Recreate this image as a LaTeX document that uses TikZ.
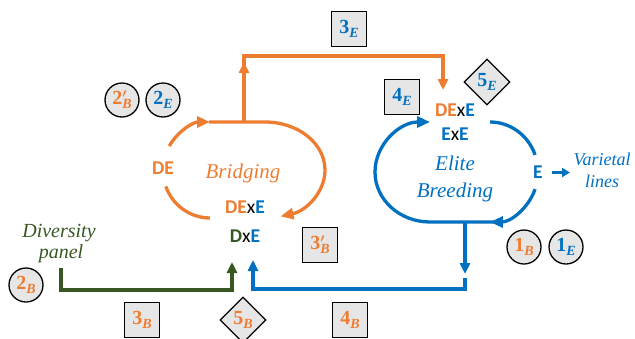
\documentclass[tikz,border=0pt]{standalone}
\usepackage{fontspec}
\setmainfont{Liberation Serif}
\newfontfamily\calfont{Carlito}
\usetikzlibrary{arrows.meta,shapes.geometric}
\definecolor{orng}{HTML}{ED7D31}
\definecolor{blu}{HTML}{0070C0}
\definecolor{grn}{HTML}{385723}
\definecolor{boxgray}{HTML}{E7E6E6}
\newcommand{\lab}[3]{\textcolor{#1}{\fontsize{20}{20}\selectfont\bfseries #2\raisebox{-0.45ex}{\fontsize{14}{14}\selectfont\itshape #3}}}
\newcommand{\labp}[3]{\textcolor{#1}{\fontsize{20}{20}\selectfont\bfseries #2\rlap{\raisebox{7pt}{\fontsize{12}{12}\selectfont\boldmath$\prime$}}\raisebox{-0.45ex}{\fontsize{14}{14}\selectfont\itshape #3}}}
\begin{document}
\begin{tikzpicture}[x=1pt,y=-1pt,
 thk/.style={line width=3.3pt},
 thkc/.style={line width=3.2pt},
 arrl/.style={-{Triangle[length=13pt,width=11pt]}},
 arrc/.style={-{Triangle[length=11pt,width=10pt]}},
 sq/.style={draw=black,line width=1.3pt,fill=boxgray,minimum size=35pt,inner sep=0pt},
 circ/.style={circle,draw=black,line width=1.3pt,fill=boxgray,minimum size=34pt,inner sep=0pt},
 dia/.style={diamond,draw=black,line width=1.3pt,fill=boxgray,minimum width=46pt,minimum height=46pt,inner sep=0pt},
 gen/.style={font=\calfont\fontsize{19.5}{20}\selectfont\bfseries,inner sep=0pt},
 ital/.style={font=\fontsize{21}{23}\selectfont\itshape,inner sep=0pt,anchor=base},
]
\useasboundingbox (0,0) rectangle (635,338);

% ---------- Bridging loop ----------
\draw[thk,orng,arrl] (169.3,146) arc[start angle=-150,end angle=-90,x radius=47,y radius=48];
\draw[thk,orng,arrl] (209,122) -- (265,122) arc[start angle=-90,end angle=75,x radius=60,y radius=48];
\draw[thk,orng] (165.8,186.4) arc[start angle=160,end angle=90,x radius=47,y radius=48];

% ---------- Elite loop ----------
\draw[thk,blu] (490,122) arc[start angle=-90,end angle=-20,x radius=48,y radius=50];
\draw[thk,blu,arrl] (535.1,189.1) arc[start angle=20,end angle=90,x radius=48,y radius=50];
\draw[thk,blu,arrl] (496,222) -- (430,222) arc[start angle=90,end angle=270,x radius=55,y radius=50];

% ---------- named coordinates ----------
\coordinate (bTop) at (244,122);
\coordinate (bMid) at (244,62);
\coordinate (bCorner) at (244,56);
\coordinate (eCorner) at (443,56);
\coordinate (eIn) at (443,90);
\coordinate (eBot) at (465,222);
\coordinate (eMid) at (465,274);
\coordinate (eCorner2) at (465,289);
\coordinate (dCorner2) at (253,289);
\coordinate (dIn2) at (253,260);
\coordinate (gStart) at (61,268);
\coordinate (gCorner) at (61,290);
\coordinate (gCorner2) at (232,290);
\coordinate (dIn1) at (232,262);

% ---------- connectors ----------
\draw[thkc,orng,arrc] (bTop) -- (bMid);
\draw[thkc,orng,arrc] ([yshift=-4pt]bMid) -- (bCorner) -- (eCorner) -- (eIn);
\draw[thkc,blu,arrc] (eBot) -- (eMid);
\draw[thkc,blu,arrc] ([yshift=-4pt]eMid) -- (eCorner2) -- (dCorner2) -- (dIn2);
\draw[line width=3.6pt,grn,arrc] (gStart) -- (gCorner) -- (gCorner2) -- (dIn1);

% ---------- texts ----------
\node[gen,text=orng] (de) at (163,168.5) {DE};
\node[ital,text=orng] (bridging) at (243,178) {Bridging};
\node[gen] (dexeB) at (245,207.5) {\textcolor{orng}{DE}\textcolor{black}{\mdseries x}\textcolor{blu}{E}};
\node[gen] (dxe) at (245,236) {\textcolor{grn}{D}\textcolor{black}{\mdseries x}\textcolor{blu}{E}};
\node[gen] (dexeE) at (455,110) {\textcolor{orng}{DE}\textcolor{black}{\mdseries x}\textcolor{blu}{E}};
\node[gen] (exe) at (455,134) {\textcolor{blu}{E}\textcolor{black}{\mdseries x}\textcolor{blu}{E}};
\node[ital,text=blu] (elite) at (455,170) {Elite};
\node[ital,text=blu] (breeding) at (455,197) {Breeding};
\node[gen,text=blu] (e) at (538,172.5) {E};
\node[ital,text=blu,font=\fontsize{18}{20}\selectfont\itshape] (varietal) at (602,165) {Varietal};
\node[ital,text=blu,font=\fontsize{18}{20}\selectfont\itshape] (lines) at (602,187) {lines};
\node[ital,text=grn,font=\fontsize{20}{22}\selectfont\itshape] (diversity) at (59,237) {Diversity};
\node[ital,text=grn,font=\fontsize{20}{22}\selectfont\itshape] (panel) at (61,258) {panel};
\draw[line width=2.8pt,blu,-{Triangle[length=8pt,width=9pt]}] ([xshift=14pt]e.center) -- ([xshift=32pt]e.center);

% ---------- markers ----------
\node[circ] (c2pB) at (122,100) {\labp{orng}{2}{B}};
\node[circ] (c2E) at (163,100) {\lab{blu}{2}{E}};
\node[sq] (s3E) at (349,29) {\lab{blu}{3}{E}};
\node[sq] (s4E) at (402,97) {\lab{blu}{4}{E}};
\node[dia] (d5E) at (487,82) {\lab{blu}{5}{E}};
\node[sq] (s3pB) at (320,245) {\labp{orng}{3}{B}};
\node[circ] (c1B) at (524,247) {\lab{orng}{1}{B}};
\node[circ] (c1E) at (566,247) {\lab{blu}{1}{E}};
\node[circ] (c2B) at (26,285) {\lab{orng}{2}{B}};
\node[sq] (s3B) at (142,320) {\lab{orng}{3}{B}};
\node[dia] (d5B) at (243,320) {\lab{orng}{5}{B}};
\node[sq] (s4B) at (350,320) {\lab{orng}{4}{B}};
\end{tikzpicture}
\end{document}
